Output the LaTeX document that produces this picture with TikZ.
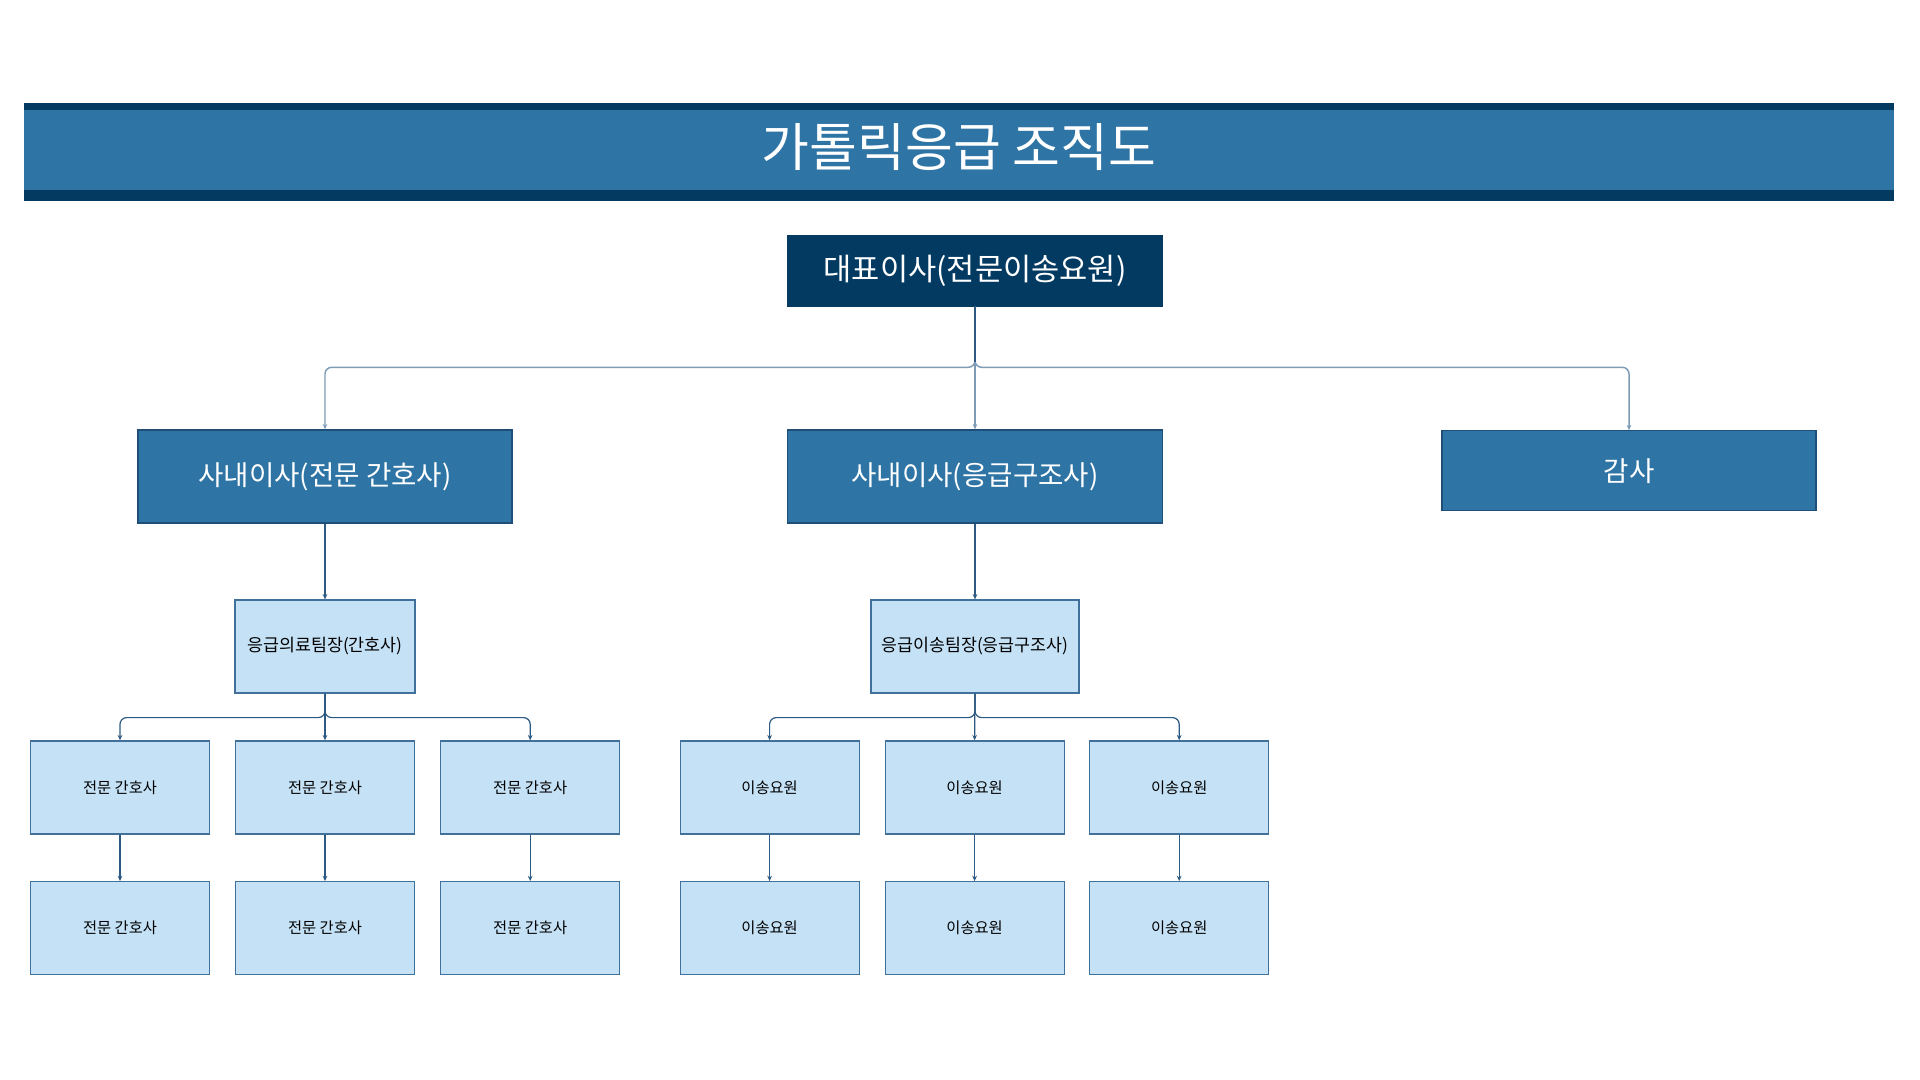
\documentclass[tikz,border=0pt]{standalone}
\usepackage{fontspec}
\setmainfont{Noto Sans CJK KR}
\usetikzlibrary{arrows.meta}
\definecolor{navy}{HTML}{033A62}
\definecolor{midblue}{HTML}{2E74A4}
\definecolor{lightblue}{HTML}{C5E1F5}
\definecolor{boxline}{HTML}{41709B}
\definecolor{darkline}{HTML}{1F4E79}
\definecolor{connA}{HTML}{7F9CB6}
\definecolor{connB}{HTML}{2D5A82}
\begin{document}
\begin{tikzpicture}[x=0.75pt,y=-0.75pt,
  topbox/.style={rectangle, inner sep=0pt, fill=navy, draw=navy, text=white,
    minimum width=375*0.75pt, minimum height=71*0.75pt, font=\fontsize{23}{26}\selectfont},
  midbox/.style={rectangle, inner sep=0pt, fill=midblue, draw=darkline, line width=0.9pt, text=white,
    minimum width=374*0.75pt, minimum height=93*0.75pt, font=\fontsize{20.7}{24}\selectfont},
  teambox/.style={rectangle, inner sep=0pt, fill=lightblue, draw=boxline, line width=0.9pt, text=black,
    minimum height=93*0.75pt, font=\fontsize{13}{15}\selectfont},
  staffbox/.style={rectangle, inner sep=0pt, fill=lightblue, draw=boxline, line width=0.9pt, text=black,
    minimum width=179*0.75pt, minimum height=93*0.75pt, font=\fontsize{11.5}{13}\selectfont},
  connhi/.style={draw=connA, line width=1.1pt, rounded corners=5pt, -{Stealth[length=4pt,width=3.5pt]}},
  connlo/.style={draw=connB, line width=0.9pt, rounded corners=5pt, -{Stealth[length=4pt,width=3.5pt]}}
]
\useasboundingbox (0,0) rectangle (1920,1080);
\fill[white] (0,0) rectangle (1920,1080);

% title bar
\fill[navy] (24,103) rectangle (1894,201);
\fill[midblue] (24,110) rectangle (1894,190);
\node[text=white, inner sep=0pt, font=\fontsize{39}{44}\selectfont] (title) at (959,147) {가톨릭응급 조직도};

% top
\node[topbox] (ceo) at (975,270.6) {대표이사(전문이송요원)};

% level 2
\node[midbox] (dirA) at (325,476.4) {사내이사(전문 간호사)};
\node[midbox, minimum width=375*0.75pt] (dirB) at (975,476.4) {사내이사(응급구조사)};
\node[midbox, minimum height=80*0.75pt] (audit) at (1629,470.8) {감사};

% level 3
\node[teambox, minimum width=180*0.75pt] (teamA) at (325,646.5) {응급의료팀장(간호사)};
\node[teambox, minimum width=208*0.75pt] (teamB) at (975,646.5) {응급이송팀장(응급구조사)};

% level 4
\node[staffbox] (nA1) at (120,787.4) {전문 간호사};
\node[staffbox] (nA2) at (325,787.4) {전문 간호사};
\node[staffbox] (nA3) at (530.2,787.4) {전문 간호사};
\node[staffbox] (nB1) at (120,928.2) {전문 간호사};
\node[staffbox] (nB2) at (325,928.2) {전문 간호사};
\node[staffbox] (nB3) at (530.2,928.2) {전문 간호사};

\node[staffbox] (tA1) at (769.6,787.4) {이송요원};
\node[staffbox] (tA2) at (974.6,787.4) {이송요원};
\node[staffbox] (tA3) at (1179.2,787.4) {이송요원};
\node[staffbox] (tB1) at (769.6,928.2) {이송요원};
\node[staffbox] (tB2) at (974.6,928.2) {이송요원};
\node[staffbox] (tB3) at (1179.2,928.2) {이송요원};

% connectors top level
\draw[connhi] (ceo.south) -- (975,367.3) -| (dirA.north);
\draw[connhi] (ceo.south) -- (dirB.north);
\draw[connhi] (ceo.south) -- (975,367.3) -| (audit.north);
\draw[connB, line width=1.1pt] (ceo.south) -- (975,362);

% level 2 to 3
\draw[connlo] (dirA.south) -- (teamA.north);
\draw[connlo] (dirB.south) -- (teamB.north);

% level 3 to 4
\draw[connlo] (teamA.south) -- (325,717.6) -| (nA1.north);
\draw[connlo] (teamA.south) -- (nA2.north);
\draw[connlo] (teamA.south) -- (325,717.6) -| (nA3.north);
\draw[connlo] (teamB.south) -- (975,717.6) -| (tA1.north);
\draw[connlo] (teamB.south) -- (tA2.north);
\draw[connlo] (teamB.south) -- (975,717.6) -| (tA3.north);

% level 4 to 5
\draw[connlo] (nA1.south) -- (nB1.north);
\draw[connlo] (nA2.south) -- (nB2.north);
\draw[connlo] (nA3.south) -- (nB3.north);
\draw[connlo] (tA1.south) -- (tB1.north);
\draw[connlo] (tA2.south) -- (tB2.north);
\draw[connlo] (tA3.south) -- (tB3.north);
\end{tikzpicture}
\end{document}
